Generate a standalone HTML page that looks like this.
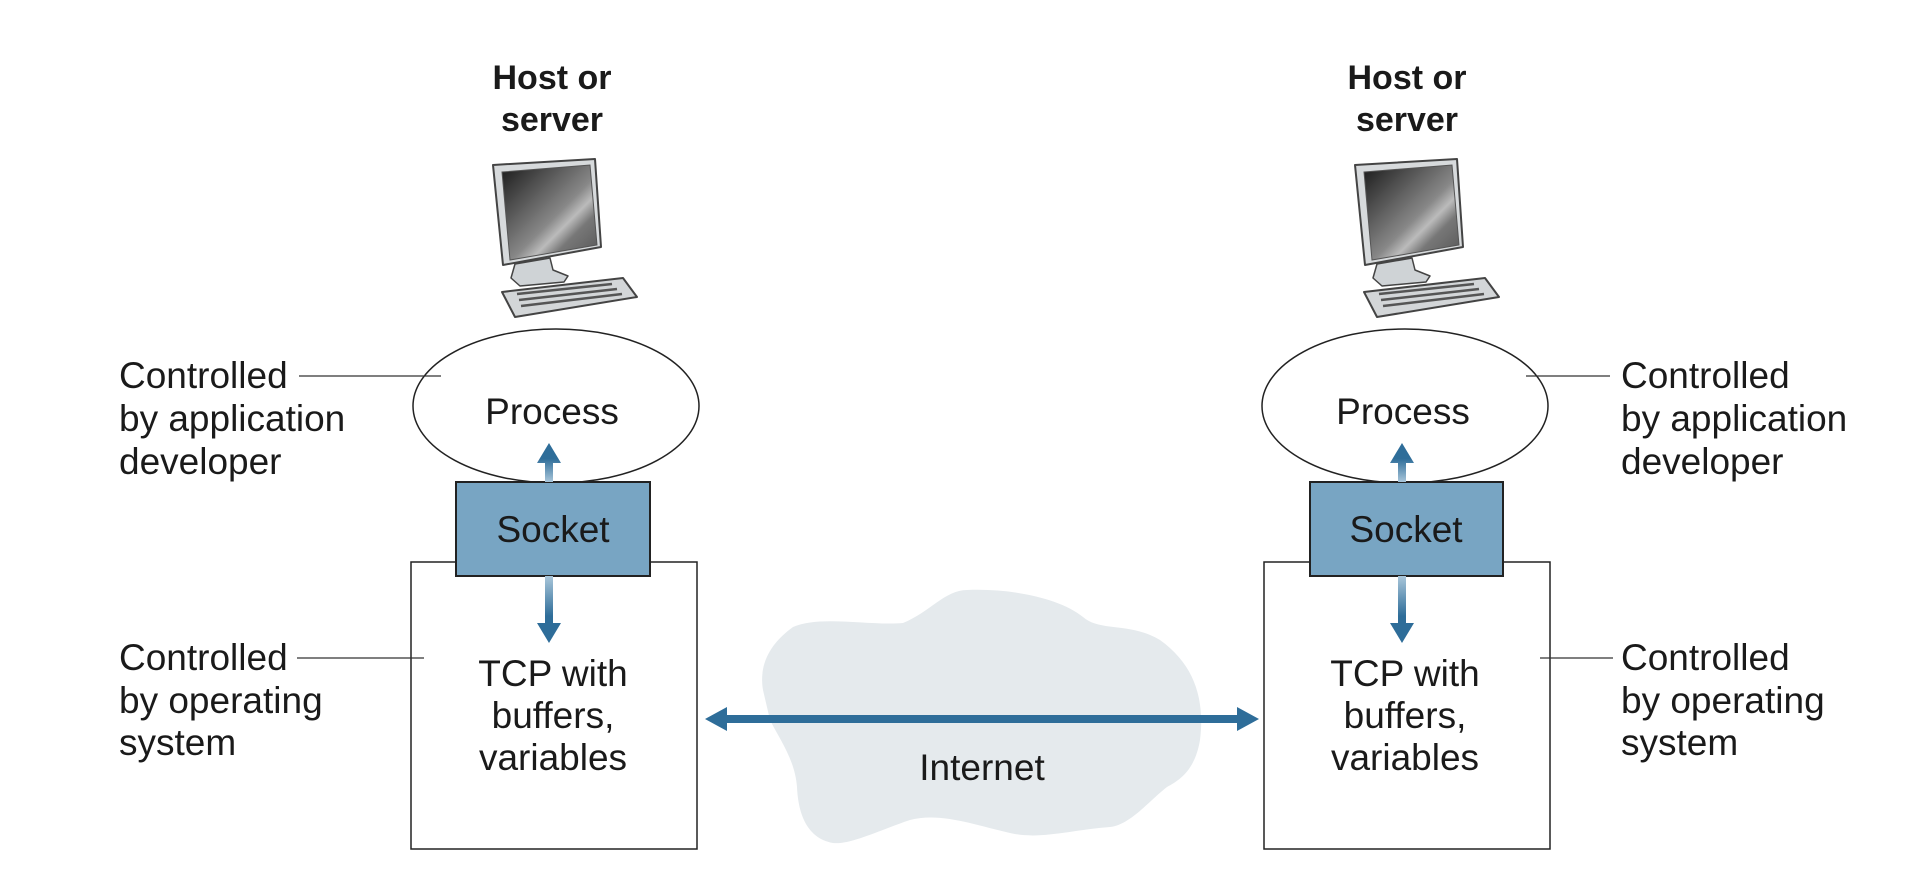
<!DOCTYPE html>
<html><head><meta charset="utf-8"><style>
html,body{margin:0;padding:0;background:#fff;}
svg{display:block;}
text{font-family:"Liberation Sans",sans-serif;fill:#1a1a1a;}
</style></head><body>
<svg width="1914" height="876" viewBox="0 0 1914 876" xmlns="http://www.w3.org/2000/svg">
<defs>
<linearGradient id="scr" x1="0" y1="0" x2="1" y2="1">
<stop offset="0" stop-color="#1a1a1a"/><stop offset="0.55" stop-color="#888"/><stop offset="0.65" stop-color="#bbb"/><stop offset="0.75" stop-color="#777"/><stop offset="1" stop-color="#555"/>
</linearGradient>
<linearGradient id="up" x1="0" y1="1" x2="0" y2="0">
<stop offset="0" stop-color="#a9c6da"/><stop offset="0.6" stop-color="#2e6d99"/><stop offset="1" stop-color="#2e6d99"/>
</linearGradient>
<linearGradient id="dn" x1="0" y1="0" x2="0" y2="1">
<stop offset="0" stop-color="#a9c6da"/><stop offset="0.6" stop-color="#2e6d99"/><stop offset="1" stop-color="#2e6d99"/>
</linearGradient>
<g id="pc">
<path d="M493,165 L595,159 L601,247 L503,265 Z" fill="#d7dadc" stroke="#444" stroke-width="2" stroke-linejoin="round"/>
<path d="M502,172 L590,165 L597,245 L510,260 Z" fill="url(#scr)" stroke="#555" stroke-width="1"/>
<path d="M515,264 L550,258 L553,270 L568,276 L564,282 L520,286 L511,278 Z" fill="#cfd3d6" stroke="#444" stroke-width="1.5" stroke-linejoin="round"/>
<path d="M502,292 L623,278 L637,297 L515,317 Z" fill="#d3d6d8" stroke="#444" stroke-width="2" stroke-linejoin="round"/>
<path d="M517,294 L612,284" stroke="#555" stroke-width="2.5"/>
<path d="M519,300 L617,289" stroke="#555" stroke-width="2.5"/>
<path d="M521,306 L622,294" stroke="#555" stroke-width="2.5"/>
</g>
</defs>

<path d="M763,690 C758,660 775,640 793,627 C820,615 870,626 903,623 C930,612 945,590 967,590 C1010,588 1060,598 1083,617 C1100,632 1130,622 1160,640 C1195,665 1205,700 1200,740 C1195,770 1180,780 1167,787 C1150,800 1130,825 1110,827 C1070,830 1040,840 1010,833 C975,825 940,812 910,820 C880,830 850,845 833,843 C805,838 798,810 797,787 C795,760 780,740 770,720 Z" fill="#e5eaed"/>

<text x="552" y="89" font-size="34" font-weight="bold" text-anchor="middle">Host or</text>
<text x="552" y="131" font-size="34" font-weight="bold" text-anchor="middle">server</text>
<use href="#pc"/>
<ellipse cx="556" cy="406" rx="143" ry="77" fill="#fff" stroke="#222" stroke-width="1.5"/>
<text x="552" y="424" font-size="37" text-anchor="middle">Process</text>
<rect x="411" y="562" width="286" height="287" fill="#fff" stroke="#222" stroke-width="1.5"/>
<rect x="456" y="482" width="194" height="94" fill="#78a5c3" stroke="#222" stroke-width="2"/>
<text x="553" y="542" font-size="37" text-anchor="middle">Socket</text>
<path d="M545,482 L545,463 L537,463 L549,443 L561,463 L553,463 L553,482 Z" fill="url(#up)"/>
<path d="M545,576 L545,623 L537,623 L549,643 L561,623 L553,623 L553,576 Z" fill="url(#dn)"/>
<text x="553" y="686" font-size="37" text-anchor="middle">TCP with</text>
<text x="553" y="728" font-size="37" text-anchor="middle">buffers,</text>
<text x="553" y="770" font-size="37" text-anchor="middle">variables</text>
<text x="119" y="388" font-size="37">Controlled</text>
<text x="119" y="431" font-size="37">by application</text>
<text x="119" y="474" font-size="37">developer</text>
<line x1="299" y1="376" x2="441" y2="376" stroke="#333" stroke-width="1.3"/>
<text x="119" y="670" font-size="37">Controlled</text>
<text x="119" y="713" font-size="37">by operating</text>
<text x="119" y="755" font-size="37">system</text>
<line x1="297" y1="658" x2="424" y2="658" stroke="#333" stroke-width="1.3"/>

<text x="1407" y="89" font-size="34" font-weight="bold" text-anchor="middle">Host or</text>
<text x="1407" y="131" font-size="34" font-weight="bold" text-anchor="middle">server</text>
<use href="#pc" transform="translate(862,0)"/>
<ellipse cx="1405" cy="406" rx="143" ry="77" fill="#fff" stroke="#222" stroke-width="1.5"/>
<text x="1403" y="424" font-size="37" text-anchor="middle">Process</text>
<rect x="1264" y="562" width="286" height="287" fill="#fff" stroke="#222" stroke-width="1.5"/>
<rect x="1310" y="482" width="193" height="94" fill="#78a5c3" stroke="#222" stroke-width="2"/>
<text x="1406" y="542" font-size="37" text-anchor="middle">Socket</text>
<path d="M1398,482 L1398,463 L1390,463 L1402,443 L1414,463 L1406,463 L1406,482 Z" fill="url(#up)"/>
<path d="M1398,576 L1398,623 L1390,623 L1402,643 L1414,623 L1406,623 L1406,576 Z" fill="url(#dn)"/>
<text x="1405" y="686" font-size="37" text-anchor="middle">TCP with</text>
<text x="1405" y="728" font-size="37" text-anchor="middle">buffers,</text>
<text x="1405" y="770" font-size="37" text-anchor="middle">variables</text>
<text x="1621" y="388" font-size="37">Controlled</text>
<text x="1621" y="431" font-size="37">by application</text>
<text x="1621" y="474" font-size="37">developer</text>
<line x1="1526" y1="376" x2="1610" y2="376" stroke="#333" stroke-width="1.3"/>
<text x="1621" y="670" font-size="37">Controlled</text>
<text x="1621" y="713" font-size="37">by operating</text>
<text x="1621" y="755" font-size="37">system</text>
<line x1="1540" y1="658" x2="1613" y2="658" stroke="#333" stroke-width="1.3"/>

<path d="M705,719 L727,707 L727,715 L1237,715 L1237,707 L1259,719 L1237,731 L1237,723 L727,723 L727,731 Z" fill="#2e6d99"/>
<text x="982" y="780" font-size="37" text-anchor="middle">Internet</text>
</svg>
</body></html>
